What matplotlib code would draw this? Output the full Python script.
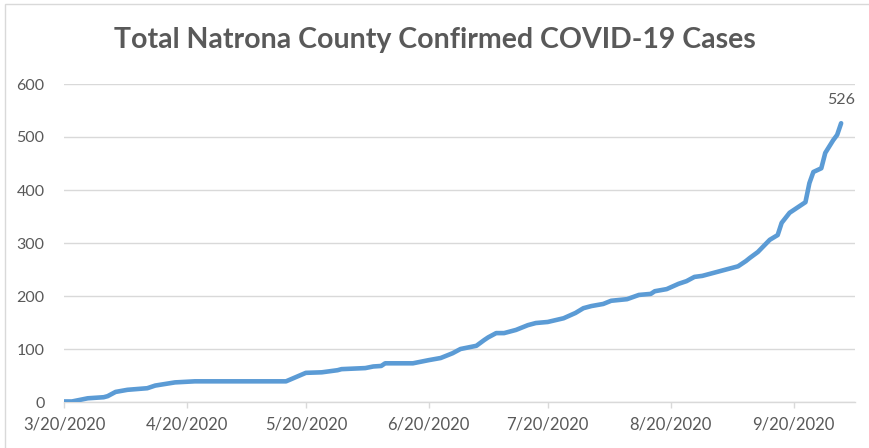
import matplotlib
matplotlib.use("Agg")
import matplotlib.pyplot as plt
import pandas as pd
from matplotlib.patches import Rectangle

# ---- data ----
dates = ["2020-03-20", "2020-03-22", "2020-03-26", "2020-03-30", "2020-03-31",
         "2020-04-02", "2020-04-05", "2020-04-10", "2020-04-12", "2020-04-17",
         "2020-04-22", "2020-05-15", "2020-05-20", "2020-05-24", "2020-05-28",
         "2020-05-29", "2020-06-04", "2020-06-06", "2020-06-08", "2020-06-09",
         "2020-06-16", "2020-06-20", "2020-06-23", "2020-06-26", "2020-06-28",
         "2020-07-02", "2020-07-04", "2020-07-05", "2020-07-07", "2020-07-09",
         "2020-07-12", "2020-07-15", "2020-07-17", "2020-07-20", "2020-07-24",
         "2020-07-27", "2020-07-29", "2020-07-31", "2020-08-03", "2020-08-05",
         "2020-08-09", "2020-08-12", "2020-08-15", "2020-08-16", "2020-08-19",
         "2020-08-22", "2020-08-24", "2020-08-26", "2020-08-28", "2020-08-31",
         "2020-09-02", "2020-09-06", "2020-09-08", "2020-09-09", "2020-09-11",
         "2020-09-14", "2020-09-16", "2020-09-17", "2020-09-19", "2020-09-22",
         "2020-09-23", "2020-09-24", "2020-09-25", "2020-09-27", "2020-09-28",
         "2020-09-30", "2020-10-01", "2020-10-02"]
cases = [1, 1, 7, 9, 11,
         19, 23, 26, 31, 37,
         39, 39, 55, 56, 60,
         62, 64, 67, 68, 73,
         73, 79, 83, 92, 100,
         106, 117, 122, 130, 130,
         136, 145, 149, 151, 158,
         168, 177, 181, 185, 191,
         194, 202, 204, 209, 213,
         223, 228, 236, 238, 244,
         248, 256, 266, 272, 283,
         306, 315, 338, 357, 372,
         377, 413, 434, 441, 470,
         494, 504, 526]
tick_dates = ["2020-03-20", "2020-04-20", "2020-05-20", "2020-06-20",
              "2020-07-20", "2020-08-20", "2020-09-20"]
tick_labels = ["3/20/2020", "4/20/2020", "5/20/2020", "6/20/2020",
               "7/20/2020", "8/20/2020", "9/20/2020"]
y_ticks = [0, 100, 200, 300, 400, 500, 600]
title = "Total Natrona County Confirmed COVID-19 Cases"
last_label = "526"

# ---- style ----
W, H, DPI = 869, 448, 100
line_color = "#5B9BD5"
text_color = "#595959"
grid_color = "#D9D9D9"
font = ["Lato", "DejaVu Sans"]

plt.rcParams["font.family"] = font

fig = plt.figure(figsize=(W / DPI, H / DPI), dpi=DPI)
fig.patches.append(Rectangle((5 / W, -0.1), 1.2, (H - 4) / H + 0.1,
                             transform=fig.transFigure, fill=False,
                             edgecolor="#D9D9D9", linewidth=1.0))

ax = fig.add_axes([64 / W, 1 - 402 / H, (855 - 64) / W, (402 - 84) / H])

x = pd.to_datetime(dates)
ax.plot(x, cases, color=line_color, linewidth=3.3, solid_capstyle="round",
        solid_joinstyle="round", zorder=3)

ax.set_xlim(pd.Timestamp("2020-03-20"), pd.Timestamp("2020-10-05 12:00"))
ax.set_ylim(0, 600)

ax.set_yticks(y_ticks)
ax.set_yticklabels([str(v) for v in y_ticks])
ax.set_xticks(pd.to_datetime(tick_dates))
ax.set_xticklabels(tick_labels)

ax.grid(axis="y", color=grid_color, linewidth=1.0, zorder=0)
ax.set_axisbelow(True)
for s in ["top", "right", "left"]:
    ax.spines[s].set_visible(False)
ax.spines["bottom"].set_color(grid_color)
ax.spines["bottom"].set_linewidth(1.0)

ax.tick_params(axis="y", length=0, pad=14, labelsize=11.5, labelcolor=text_color)
ax.tick_params(axis="x", length=4.5, width=1.0, color=grid_color, pad=6,
               labelsize=12, labelcolor=text_color, direction="out")

ax.annotate(last_label, xy=(x[-1], cases[-1]), xytext=(0, 12),
            textcoords="offset points", ha="center", va="bottom",
            color=text_color, fontsize=11.5)

fig.text(0.5, 1 - 40 / H, title, ha="center", va="center",
         fontsize=20.5, fontweight="bold", color=text_color)

fig.savefig("out.png", dpi=DPI)
